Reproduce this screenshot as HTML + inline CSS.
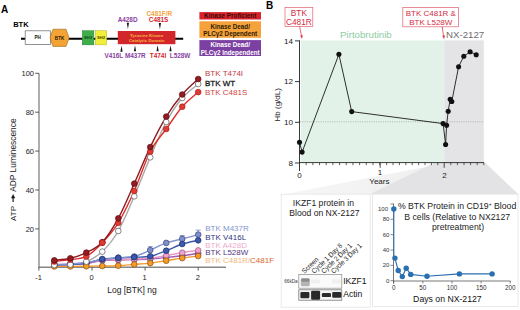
<!DOCTYPE html>
<html><head><meta charset="utf-8"><style>
html,body{margin:0;padding:0;background:#fff;width:520px;height:310px;overflow:hidden}
svg{display:block;font-family:"Liberation Sans", sans-serif}
</style></head><body>
<svg width="520" height="310" viewBox="0 0 520 310">
<text x="1" y="12.6" font-size="10" fill="#000" font-weight="bold" text-anchor="start" >A</text>
<text x="13.2" y="27.4" font-size="7.5" fill="#000" font-weight="bold" text-anchor="start" >BTK</text>
<line x1="21" y1="38.8" x2="183.2" y2="38.8" stroke="#000" stroke-width="2"/>
<rect x="25.2" y="30.8" width="25.2" height="13.7" fill="#fff" stroke="#707070" stroke-width="0.75"/>
<text x="37.6" y="39.4" font-size="4.6" fill="#111" font-weight="bold" text-anchor="middle" >PH</text>
<polygon points="50,38 53,29.2 66,29.2 69.2,38 66,46.4 53,46.4" fill="#f4a435" stroke="#9a6a1a" stroke-width="0.6"/>
<text x="59.6" y="39.7" font-size="4.6" fill="#2a1800" font-weight="bold" text-anchor="middle" >BTK</text>
<rect x="82.2" y="30.6" width="11.7" height="14.3" fill="#3fae4a" stroke="#2f7a35" stroke-width="0.4"/>
<text x="88.1" y="39.4" font-size="4.1" fill="#173d18" font-weight="bold" text-anchor="middle" >SH3</text>
<rect x="95.3" y="30.6" width="11.4" height="14.3" fill="#f2ee3a" stroke="#a8a020" stroke-width="0.4"/>
<text x="101.0" y="39.4" font-size="4.1" fill="#4a4500" font-weight="bold" text-anchor="middle" >SH2</text>
<rect x="117.8" y="31.0" width="57.6" height="13.2" fill="#d2262b"/>
<text x="146.7" y="37.0" font-size="4.4" fill="#f7b640" font-weight="bold" text-anchor="middle" >Tyrosine Kinase</text>
<text x="146.7" y="41.9" font-size="4.4" fill="#f7b640" font-weight="bold" text-anchor="middle" >Catalytic Domain</text>
<polygon points="126.80000000000001,22.8 129.0,22.8 127.9,29.0" fill="#111"/>
<polygon points="158.8,23.0 161.0,23.0 159.9,29.2" fill="#111"/>
<polygon points="120.4,51.8 122.6,51.8 121.5,45.5" fill="#111"/>
<polygon points="133.9,51.2 136.1,51.2 135.0,45.2" fill="#111"/>
<polygon points="156.5,51.2 158.7,51.2 157.6,45.2" fill="#111"/>
<polygon points="169.4,51.2 171.6,51.2 170.5,45.2" fill="#111"/>
<text x="127.6" y="22.2" font-size="6.4" fill="#8a3fa3" font-weight="bold" text-anchor="middle" >A428D</text>
<text x="159.3" y="16.3" font-size="6.4" fill="#f2a341" font-weight="bold" text-anchor="middle" >C481F/R</text>
<text x="158.6" y="22.2" font-size="6.4" fill="#d3262c" font-weight="bold" text-anchor="middle" >C481S</text>
<text x="113.8" y="58.1" font-size="6.4" fill="#8a3fa3" font-weight="bold" text-anchor="middle" >V416L</text>
<text x="135.3" y="58.1" font-size="6.4" fill="#8a3fa3" font-weight="bold" text-anchor="middle" >M437R</text>
<text x="158.0" y="58.1" font-size="6.4" fill="#d3262c" font-weight="bold" text-anchor="middle" >T474I</text>
<text x="180.1" y="58.1" font-size="6.4" fill="#8a3fa3" font-weight="bold" text-anchor="middle" >L528W</text>
<rect x="199.4" y="12.1" width="61.6" height="7.4" fill="#d9232b"/>
<text x="230.2" y="18.2" font-size="6.4" fill="#3c0b0b" font-weight="bold" text-anchor="middle" >Kinase Proficient</text>
<rect x="199.4" y="21.3" width="61.6" height="16.5" fill="#f5a23a"/>
<text x="230.2" y="28.6" font-size="6.3" fill="#2d1a05" font-weight="bold" text-anchor="middle" >Kinase Dead/</text>
<text x="230.2" y="35.7" font-size="6.3" fill="#2d1a05" font-weight="bold" text-anchor="middle" >PLC&#947;2 Dependent</text>
<rect x="199.4" y="40.1" width="61.6" height="15.9" fill="#7c3fa2"/>
<text x="230.2" y="47.2" font-size="6.3" fill="#fff" font-weight="bold" text-anchor="middle" >Kinase Dead/</text>
<text x="230.2" y="54.8" font-size="6.3" fill="#fff" font-weight="bold" text-anchor="middle" >PLC&#947;2 Independent</text>
<line x1="39" y1="73.3" x2="39" y2="267.2" stroke="#868686" stroke-width="1.35"/>
<line x1="38.4" y1="267.2" x2="226" y2="267.2" stroke="#868686" stroke-width="1.35"/>
<line x1="35.2" y1="228.90" x2="39" y2="228.90" stroke="#4a4a4a" stroke-width="0.9"/>
<text x="34.0" y="231.6" font-size="7.5" fill="#222" font-weight="normal" text-anchor="end" >20</text>
<line x1="35.2" y1="190.00" x2="39" y2="190.00" stroke="#4a4a4a" stroke-width="0.9"/>
<text x="34.0" y="192.7" font-size="7.5" fill="#222" font-weight="normal" text-anchor="end" >40</text>
<line x1="35.2" y1="151.10" x2="39" y2="151.10" stroke="#4a4a4a" stroke-width="0.9"/>
<text x="34.0" y="153.8" font-size="7.5" fill="#222" font-weight="normal" text-anchor="end" >60</text>
<line x1="35.2" y1="112.20" x2="39" y2="112.20" stroke="#4a4a4a" stroke-width="0.9"/>
<text x="34.0" y="114.90000000000002" font-size="7.5" fill="#222" font-weight="normal" text-anchor="end" >80</text>
<line x1="35.2" y1="73.30" x2="39" y2="73.30" stroke="#4a4a4a" stroke-width="0.9"/>
<text x="34.0" y="76.00000000000001" font-size="7.5" fill="#222" font-weight="normal" text-anchor="end" >100</text>
<line x1="38.90" y1="267.2" x2="38.90" y2="270.6" stroke="#4a4a4a" stroke-width="0.9"/>
<text x="38.5" y="279.8" font-size="7.5" fill="#222" font-weight="normal" text-anchor="middle" >-1</text>
<line x1="92.00" y1="267.2" x2="92.00" y2="270.6" stroke="#4a4a4a" stroke-width="0.9"/>
<text x="91.6" y="279.8" font-size="7.5" fill="#222" font-weight="normal" text-anchor="middle" >0</text>
<line x1="145.10" y1="267.2" x2="145.10" y2="270.6" stroke="#4a4a4a" stroke-width="0.9"/>
<text x="144.7" y="279.8" font-size="7.5" fill="#222" font-weight="normal" text-anchor="middle" >1</text>
<line x1="198.20" y1="267.2" x2="198.20" y2="270.6" stroke="#4a4a4a" stroke-width="0.9"/>
<text x="197.79999999999998" y="279.8" font-size="7.5" fill="#222" font-weight="normal" text-anchor="middle" >2</text>
<text x="132" y="293.4" font-size="8.5" fill="#1a1a1a" font-weight="normal" text-anchor="middle" >Log [BTK] ng</text>
<g transform="translate(16.0,221) rotate(-90)" fill="#1a1a1a"><text x="0" y="0" font-size="8">ATP</text><polygon points="19.0,-3.5 22.8,-3.5 22.8,-5.0 26.9,-2.9 22.8,-0.8 22.8,-2.3 19.0,-2.3" /><text x="29.2" y="0" font-size="8.4">ADP Luminescence</text></g>
<path d="M54.35,265.00 C57.02,264.92 65.01,265.07 70.34,264.50 C75.66,263.93 80.99,263.75 86.32,261.60 C91.65,259.45 96.97,256.70 102.30,251.60 C107.63,246.50 112.96,240.22 118.28,231.00 C123.61,221.78 128.94,208.58 134.27,196.30 C139.60,184.02 144.92,169.68 150.25,157.30 C155.58,144.92 160.91,131.88 166.23,122.00 C171.56,112.12 176.89,104.33 182.22,98.00 C187.54,91.67 195.54,86.33 198.20,84.00" fill="none" stroke="#a8a8a8" stroke-width="1.4"/>
<path d="M54.35,266.40 C57.02,266.40 65.01,266.42 70.34,266.40 C75.66,266.38 80.99,266.37 86.32,266.30 C91.65,266.23 96.97,266.10 102.30,266.00 C107.63,265.90 112.96,265.97 118.28,265.70 C123.61,265.43 128.94,264.83 134.27,264.40 C139.60,263.97 144.92,263.72 150.25,263.10 C155.58,262.48 160.91,261.53 166.23,260.70 C171.56,259.87 176.89,258.88 182.22,258.10 C187.54,257.32 195.54,256.35 198.20,256.00" fill="none" stroke="#f29a30" stroke-width="1.4"/>
<path d="M54.35,265.00 C57.02,264.92 65.01,264.75 70.34,264.50 C75.66,264.25 80.99,264.17 86.32,263.50 C91.65,262.83 96.97,261.08 102.30,260.50 C107.63,259.92 112.96,260.15 118.28,260.00 C123.61,259.85 128.94,259.77 134.27,259.60 C139.60,259.43 144.92,259.35 150.25,259.00 C155.58,258.65 160.91,258.03 166.23,257.50 C171.56,256.97 176.89,256.50 182.22,255.80 C187.54,255.10 195.54,253.72 198.20,253.30" fill="none" stroke="#a25bb0" stroke-width="1.4"/>
<path d="M54.35,264.50 C57.02,264.42 65.01,264.25 70.34,264.00 C75.66,263.75 80.99,263.67 86.32,263.00 C91.65,262.33 96.97,260.58 102.30,260.00 C107.63,259.42 112.96,259.67 118.28,259.50 C123.61,259.33 128.94,259.25 134.27,259.00 C139.60,258.75 144.92,258.58 150.25,258.00 C155.58,257.42 160.91,256.38 166.23,255.50 C171.56,254.62 176.89,253.55 182.22,252.70 C187.54,251.85 195.54,250.78 198.20,250.40" fill="none" stroke="#e99ac8" stroke-width="1.4"/>
<path d="M54.35,265.00 C57.02,264.90 65.01,264.70 70.34,264.40 C75.66,264.10 80.99,264.10 86.32,263.20 C91.65,262.30 96.97,259.87 102.30,259.00 C107.63,258.13 112.96,258.30 118.28,258.00 C123.61,257.70 128.94,257.48 134.27,257.20 C139.60,256.92 144.92,257.38 150.25,256.30 C155.58,255.22 160.91,252.75 166.23,250.70 C171.56,248.65 176.89,245.73 182.22,244.00 C187.54,242.27 195.54,240.92 198.20,240.30" fill="none" stroke="#3a58ad" stroke-width="1.4"/>
<path d="M54.35,264.80 C57.02,264.67 65.01,264.38 70.34,264.00 C75.66,263.62 80.99,263.25 86.32,262.50 C91.65,261.75 96.97,260.32 102.30,259.50 C107.63,258.68 112.96,258.10 118.28,257.60 C123.61,257.10 128.94,257.75 134.27,256.50 C139.60,255.25 144.92,252.37 150.25,250.10 C155.58,247.83 160.91,244.77 166.23,242.90 C171.56,241.03 176.89,240.28 182.22,238.90 C187.54,237.52 195.54,235.32 198.20,234.60" fill="none" stroke="#8292cf" stroke-width="1.4"/>
<path d="M54.35,261.50 C57.02,261.18 65.01,260.45 70.34,259.60 C75.66,258.75 80.99,259.22 86.32,256.40 C91.65,253.58 96.97,248.30 102.30,242.70 C107.63,237.10 112.96,231.42 118.28,222.80 C123.61,214.18 128.94,202.88 134.27,191.00 C139.60,179.12 144.92,161.83 150.25,151.50 C155.58,141.17 160.91,136.47 166.23,129.00 C171.56,121.53 176.89,112.85 182.22,106.70 C187.54,100.55 195.54,94.53 198.20,92.10" fill="none" stroke="#de2f2b" stroke-width="1.4"/>
<path d="M54.35,260.30 C57.02,259.97 65.01,259.58 70.34,258.30 C75.66,257.02 80.99,255.28 86.32,252.60 C91.65,249.92 96.97,247.90 102.30,242.20 C107.63,236.50 112.96,228.17 118.28,218.40 C123.61,208.63 128.94,195.48 134.27,183.60 C139.60,171.72 144.92,158.27 150.25,147.10 C155.58,135.93 160.91,125.37 166.23,116.60 C171.56,107.83 176.89,100.77 182.22,94.50 C187.54,88.23 195.54,81.58 198.20,79.00" fill="none" stroke="#8f1a1f" stroke-width="1.4"/>
<line x1="150.25" y1="246.6" x2="150.25" y2="250.1" stroke="#6a78b8" stroke-width="0.7"/>
<line x1="147.75" y1="246.6" x2="152.75" y2="246.6" stroke="#6a78b8" stroke-width="0.7"/>
<line x1="182.22" y1="235.5" x2="182.22" y2="238.9" stroke="#6a78b8" stroke-width="0.7"/>
<line x1="179.72" y1="235.5" x2="184.72" y2="235.5" stroke="#6a78b8" stroke-width="0.7"/>
<line x1="198.20" y1="230.1" x2="198.20" y2="234.6" stroke="#6a78b8" stroke-width="0.7"/>
<line x1="195.70" y1="230.1" x2="200.70" y2="230.1" stroke="#6a78b8" stroke-width="0.7"/>
<line x1="147.75" y1="153.5" x2="152.75" y2="153.5" stroke="#777" stroke-width="0.7"/>
<line x1="179.72" y1="94.6" x2="184.72" y2="94.6" stroke="#777" stroke-width="0.7"/>
<line x1="115.78" y1="228.5" x2="120.78" y2="228.5" stroke="#777" stroke-width="0.7"/>
<circle cx="54.35" cy="265.00" r="2.85" fill="#b061b8" stroke="#5a2a6a" stroke-width="0.7"/>
<circle cx="70.34" cy="264.50" r="2.85" fill="#b061b8" stroke="#5a2a6a" stroke-width="0.7"/>
<circle cx="86.32" cy="263.50" r="2.85" fill="#b061b8" stroke="#5a2a6a" stroke-width="0.7"/>
<circle cx="102.30" cy="260.50" r="2.85" fill="#b061b8" stroke="#5a2a6a" stroke-width="0.7"/>
<circle cx="118.28" cy="260.00" r="2.85" fill="#b061b8" stroke="#5a2a6a" stroke-width="0.7"/>
<circle cx="134.27" cy="259.60" r="2.85" fill="#b061b8" stroke="#5a2a6a" stroke-width="0.7"/>
<circle cx="150.25" cy="259.00" r="2.85" fill="#b061b8" stroke="#5a2a6a" stroke-width="0.7"/>
<circle cx="166.23" cy="257.50" r="2.85" fill="#b061b8" stroke="#5a2a6a" stroke-width="0.7"/>
<circle cx="182.22" cy="255.80" r="2.85" fill="#b061b8" stroke="#5a2a6a" stroke-width="0.7"/>
<circle cx="198.20" cy="253.30" r="2.85" fill="#b061b8" stroke="#5a2a6a" stroke-width="0.7"/>
<circle cx="54.35" cy="264.50" r="2.85" fill="#eea3cf" stroke="#9a5a80" stroke-width="0.7"/>
<circle cx="70.34" cy="264.00" r="2.85" fill="#eea3cf" stroke="#9a5a80" stroke-width="0.7"/>
<circle cx="86.32" cy="263.00" r="2.85" fill="#eea3cf" stroke="#9a5a80" stroke-width="0.7"/>
<circle cx="102.30" cy="260.00" r="2.85" fill="#eea3cf" stroke="#9a5a80" stroke-width="0.7"/>
<circle cx="118.28" cy="259.50" r="2.85" fill="#eea3cf" stroke="#9a5a80" stroke-width="0.7"/>
<circle cx="134.27" cy="259.00" r="2.85" fill="#eea3cf" stroke="#9a5a80" stroke-width="0.7"/>
<circle cx="150.25" cy="258.00" r="2.85" fill="#eea3cf" stroke="#9a5a80" stroke-width="0.7"/>
<circle cx="166.23" cy="255.50" r="2.85" fill="#eea3cf" stroke="#9a5a80" stroke-width="0.7"/>
<circle cx="182.22" cy="252.70" r="2.85" fill="#eea3cf" stroke="#9a5a80" stroke-width="0.7"/>
<circle cx="198.20" cy="250.40" r="2.85" fill="#eea3cf" stroke="#9a5a80" stroke-width="0.7"/>
<circle cx="54.35" cy="264.80" r="2.85" fill="#7f8fcc" stroke="#3a4680" stroke-width="0.7"/>
<circle cx="70.34" cy="264.00" r="2.85" fill="#7f8fcc" stroke="#3a4680" stroke-width="0.7"/>
<circle cx="86.32" cy="262.50" r="2.85" fill="#7f8fcc" stroke="#3a4680" stroke-width="0.7"/>
<circle cx="102.30" cy="259.50" r="2.85" fill="#7f8fcc" stroke="#3a4680" stroke-width="0.7"/>
<circle cx="118.28" cy="257.60" r="2.85" fill="#7f8fcc" stroke="#3a4680" stroke-width="0.7"/>
<circle cx="134.27" cy="256.50" r="2.85" fill="#7f8fcc" stroke="#3a4680" stroke-width="0.7"/>
<circle cx="150.25" cy="250.10" r="2.85" fill="#7f8fcc" stroke="#3a4680" stroke-width="0.7"/>
<circle cx="166.23" cy="242.90" r="2.85" fill="#7f8fcc" stroke="#3a4680" stroke-width="0.7"/>
<circle cx="182.22" cy="238.90" r="2.85" fill="#7f8fcc" stroke="#3a4680" stroke-width="0.7"/>
<circle cx="198.20" cy="234.60" r="2.85" fill="#7f8fcc" stroke="#3a4680" stroke-width="0.7"/>
<circle cx="54.35" cy="265.00" r="2.85" fill="#3a58ad" stroke="#1c2c60" stroke-width="0.7"/>
<circle cx="70.34" cy="264.40" r="2.85" fill="#3a58ad" stroke="#1c2c60" stroke-width="0.7"/>
<circle cx="86.32" cy="263.20" r="2.85" fill="#3a58ad" stroke="#1c2c60" stroke-width="0.7"/>
<circle cx="102.30" cy="259.00" r="2.85" fill="#3a58ad" stroke="#1c2c60" stroke-width="0.7"/>
<circle cx="118.28" cy="258.00" r="2.85" fill="#3a58ad" stroke="#1c2c60" stroke-width="0.7"/>
<circle cx="134.27" cy="257.20" r="2.85" fill="#3a58ad" stroke="#1c2c60" stroke-width="0.7"/>
<circle cx="150.25" cy="256.30" r="2.85" fill="#3a58ad" stroke="#1c2c60" stroke-width="0.7"/>
<circle cx="166.23" cy="250.70" r="2.85" fill="#3a58ad" stroke="#1c2c60" stroke-width="0.7"/>
<circle cx="182.22" cy="244.00" r="2.85" fill="#3a58ad" stroke="#1c2c60" stroke-width="0.7"/>
<circle cx="198.20" cy="240.30" r="2.85" fill="#3a58ad" stroke="#1c2c60" stroke-width="0.7"/>
<circle cx="54.35" cy="266.40" r="2.85" fill="#f39b2b" stroke="#8a5010" stroke-width="0.7"/>
<circle cx="70.34" cy="266.40" r="2.85" fill="#f39b2b" stroke="#8a5010" stroke-width="0.7"/>
<circle cx="86.32" cy="266.30" r="2.85" fill="#f39b2b" stroke="#8a5010" stroke-width="0.7"/>
<circle cx="102.30" cy="266.00" r="2.85" fill="#f39b2b" stroke="#8a5010" stroke-width="0.7"/>
<circle cx="118.28" cy="265.70" r="2.85" fill="#f39b2b" stroke="#8a5010" stroke-width="0.7"/>
<circle cx="134.27" cy="264.40" r="2.85" fill="#f39b2b" stroke="#8a5010" stroke-width="0.7"/>
<circle cx="150.25" cy="263.10" r="2.85" fill="#f39b2b" stroke="#8a5010" stroke-width="0.7"/>
<circle cx="166.23" cy="260.70" r="2.85" fill="#f39b2b" stroke="#8a5010" stroke-width="0.7"/>
<circle cx="182.22" cy="258.10" r="2.85" fill="#f39b2b" stroke="#8a5010" stroke-width="0.7"/>
<circle cx="198.20" cy="256.00" r="2.85" fill="#f39b2b" stroke="#8a5010" stroke-width="0.7"/>
<circle cx="54.35" cy="265.00" r="2.85" fill="#ffffff" stroke="#555" stroke-width="0.7"/>
<circle cx="70.34" cy="264.50" r="2.85" fill="#ffffff" stroke="#555" stroke-width="0.7"/>
<circle cx="86.32" cy="261.60" r="2.85" fill="#ffffff" stroke="#555" stroke-width="0.7"/>
<circle cx="102.30" cy="251.60" r="2.85" fill="#ffffff" stroke="#555" stroke-width="0.7"/>
<circle cx="118.28" cy="231.00" r="2.85" fill="#ffffff" stroke="#555" stroke-width="0.7"/>
<circle cx="134.27" cy="196.30" r="2.85" fill="#ffffff" stroke="#555" stroke-width="0.7"/>
<circle cx="150.25" cy="157.30" r="2.85" fill="#ffffff" stroke="#555" stroke-width="0.7"/>
<circle cx="166.23" cy="122.00" r="2.85" fill="#ffffff" stroke="#555" stroke-width="0.7"/>
<circle cx="182.22" cy="98.00" r="2.85" fill="#ffffff" stroke="#555" stroke-width="0.7"/>
<circle cx="198.20" cy="84.00" r="2.85" fill="#ffffff" stroke="#555" stroke-width="0.7"/>
<circle cx="54.35" cy="261.50" r="2.85" fill="#e23a33" stroke="#a82020" stroke-width="0.7"/>
<circle cx="70.34" cy="259.60" r="2.85" fill="#e23a33" stroke="#a82020" stroke-width="0.7"/>
<circle cx="86.32" cy="256.40" r="2.85" fill="#e23a33" stroke="#a82020" stroke-width="0.7"/>
<circle cx="102.30" cy="242.70" r="2.85" fill="#e23a33" stroke="#a82020" stroke-width="0.7"/>
<circle cx="118.28" cy="222.80" r="2.85" fill="#e23a33" stroke="#a82020" stroke-width="0.7"/>
<circle cx="134.27" cy="191.00" r="2.85" fill="#e23a33" stroke="#a82020" stroke-width="0.7"/>
<circle cx="150.25" cy="151.50" r="2.85" fill="#e23a33" stroke="#a82020" stroke-width="0.7"/>
<circle cx="166.23" cy="129.00" r="2.85" fill="#e23a33" stroke="#a82020" stroke-width="0.7"/>
<circle cx="182.22" cy="106.70" r="2.85" fill="#e23a33" stroke="#a82020" stroke-width="0.7"/>
<circle cx="198.20" cy="92.10" r="2.85" fill="#e23a33" stroke="#a82020" stroke-width="0.7"/>
<circle cx="54.35" cy="260.30" r="2.85" fill="#931c24" stroke="#5a0f12" stroke-width="0.7"/>
<circle cx="70.34" cy="258.30" r="2.85" fill="#931c24" stroke="#5a0f12" stroke-width="0.7"/>
<circle cx="86.32" cy="252.60" r="2.85" fill="#931c24" stroke="#5a0f12" stroke-width="0.7"/>
<circle cx="102.30" cy="242.20" r="2.85" fill="#931c24" stroke="#5a0f12" stroke-width="0.7"/>
<circle cx="118.28" cy="218.40" r="2.85" fill="#931c24" stroke="#5a0f12" stroke-width="0.7"/>
<circle cx="134.27" cy="183.60" r="2.85" fill="#931c24" stroke="#5a0f12" stroke-width="0.7"/>
<circle cx="150.25" cy="147.10" r="2.85" fill="#931c24" stroke="#5a0f12" stroke-width="0.7"/>
<circle cx="166.23" cy="116.60" r="2.85" fill="#931c24" stroke="#5a0f12" stroke-width="0.7"/>
<circle cx="182.22" cy="94.50" r="2.85" fill="#931c24" stroke="#5a0f12" stroke-width="0.7"/>
<circle cx="198.20" cy="79.00" r="2.85" fill="#931c24" stroke="#5a0f12" stroke-width="0.7"/>
<circle cx="102.30" cy="242.70" r="2.85" fill="#e23a33" stroke="#a82020" stroke-width="0.7"/>
<text x="205" y="76.0" font-size="8" fill="#bf3b45" font-weight="normal" text-anchor="start" >BTK T474I</text>
<text x="205" y="86.2" font-size="8" fill="#1a1a1a" font-weight="normal" text-anchor="start" stroke="#1a1a1a" stroke-width="0.3">BTK WT</text>
<text x="205" y="94.8" font-size="8" fill="#d5433d" font-weight="normal" text-anchor="start" >BTK C481S</text>
<text x="205.2" y="231.0" font-size="8" fill="#8494cf" font-weight="normal" text-anchor="start" >BTK M437R</text>
<text x="205.2" y="240.3" font-size="8" fill="#2f2f80" font-weight="normal" text-anchor="start" >BTK V416L</text>
<text x="205.2" y="248.0" font-size="8" fill="#efaacb" font-weight="normal" text-anchor="start" >BTK A428D</text>
<text x="205.2" y="254.7" font-size="8" fill="#553482" font-weight="normal" text-anchor="start" >BTK L528W</text>
<text x="205.2" y="262.6" font-size="8" fill="#f2b77a">BTK C481R/<tspan fill="#e0652c">C481F</tspan></text>
<text x="266.0" y="8.5" font-size="10" fill="#000" font-weight="bold" text-anchor="start" >B</text>
<rect x="300.8" y="40.4" width="143.4" height="122.2" fill="#e3f2e8"/>
<rect x="444.2" y="40.4" width="39.6" height="122.6" fill="#e4e4e7"/>
<text x="365.9" y="38.2" font-size="9.7" fill="#8bcba0" font-weight="normal" text-anchor="middle" >Pirtobrutinib</text>
<text x="446" y="37.6" font-size="9.7" fill="#6e6e6e" font-weight="normal" text-anchor="start" >NX-2127</text>
<defs><linearGradient id="tz" x1="0" y1="0" x2="1" y2="0"><stop offset="0" stop-color="#f6f6f6"/><stop offset="1" stop-color="#ececec"/></linearGradient></defs>
<polygon points="446,163 485.4,163 518,194 283,194.5" fill="url(#tz)"/>
<polygon points="434,163 485.4,163 518,194 370,194" fill="#e3e3e5"/>
<line x1="300" y1="121.8" x2="484" y2="121.8" stroke="#8a8a8a" stroke-width="0.6" stroke-dasharray="1,1.3"/>
<line x1="299.5" y1="40.4" x2="299.5" y2="171" stroke="#222" stroke-width="0.9"/>
<line x1="299" y1="162.6" x2="484" y2="162.6" stroke="#222" stroke-width="0.9"/>
<line x1="295" y1="163.00" x2="299.5" y2="163.00" stroke="#222" stroke-width="0.9"/>
<text x="292.9" y="165.8" font-size="8.1" fill="#1a1a1a" font-weight="normal" text-anchor="end" >8</text>
<line x1="295" y1="122.30" x2="299.5" y2="122.30" stroke="#222" stroke-width="0.9"/>
<text x="292.9" y="125.1" font-size="8.1" fill="#1a1a1a" font-weight="normal" text-anchor="end" >10</text>
<line x1="295" y1="81.60" x2="299.5" y2="81.60" stroke="#222" stroke-width="0.9"/>
<text x="292.9" y="84.39999999999999" font-size="8.1" fill="#1a1a1a" font-weight="normal" text-anchor="end" >12</text>
<line x1="295" y1="40.90" x2="299.5" y2="40.90" stroke="#222" stroke-width="0.9"/>
<text x="292.9" y="43.69999999999999" font-size="8.1" fill="#1a1a1a" font-weight="normal" text-anchor="end" >14</text>
<line x1="306.18" y1="162.6" x2="306.18" y2="165.2" stroke="#222" stroke-width="0.7"/>
<line x1="312.86" y1="162.6" x2="312.86" y2="165.2" stroke="#222" stroke-width="0.7"/>
<line x1="319.54" y1="162.6" x2="319.54" y2="165.2" stroke="#222" stroke-width="0.7"/>
<line x1="326.22" y1="162.6" x2="326.22" y2="165.2" stroke="#222" stroke-width="0.7"/>
<line x1="332.90" y1="162.6" x2="332.90" y2="165.2" stroke="#222" stroke-width="0.7"/>
<line x1="339.58" y1="162.6" x2="339.58" y2="165.2" stroke="#222" stroke-width="0.7"/>
<line x1="346.26" y1="162.6" x2="346.26" y2="165.2" stroke="#222" stroke-width="0.7"/>
<line x1="352.94" y1="162.6" x2="352.94" y2="165.2" stroke="#222" stroke-width="0.7"/>
<line x1="359.62" y1="162.6" x2="359.62" y2="165.2" stroke="#222" stroke-width="0.7"/>
<line x1="366.30" y1="162.6" x2="366.30" y2="165.2" stroke="#222" stroke-width="0.7"/>
<line x1="372.98" y1="162.6" x2="372.98" y2="165.2" stroke="#222" stroke-width="0.7"/>
<line x1="379.66" y1="162.6" x2="379.66" y2="165.2" stroke="#222" stroke-width="0.7"/>
<line x1="386.60" y1="162.6" x2="386.60" y2="165.2" stroke="#222" stroke-width="0.7"/>
<line x1="393.00" y1="162.6" x2="393.00" y2="165.2" stroke="#222" stroke-width="0.7"/>
<line x1="399.40" y1="162.6" x2="399.40" y2="165.2" stroke="#222" stroke-width="0.7"/>
<line x1="405.80" y1="162.6" x2="405.80" y2="165.2" stroke="#222" stroke-width="0.7"/>
<line x1="412.20" y1="162.6" x2="412.20" y2="165.2" stroke="#222" stroke-width="0.7"/>
<line x1="418.60" y1="162.6" x2="418.60" y2="165.2" stroke="#222" stroke-width="0.7"/>
<line x1="425.00" y1="162.6" x2="425.00" y2="165.2" stroke="#222" stroke-width="0.7"/>
<line x1="431.40" y1="162.6" x2="431.40" y2="165.2" stroke="#222" stroke-width="0.7"/>
<line x1="437.80" y1="162.6" x2="437.80" y2="165.2" stroke="#222" stroke-width="0.7"/>
<line x1="450.80" y1="162.6" x2="450.80" y2="165.2" stroke="#222" stroke-width="0.7"/>
<line x1="457.40" y1="162.6" x2="457.40" y2="165.2" stroke="#222" stroke-width="0.7"/>
<line x1="464.00" y1="162.6" x2="464.00" y2="165.2" stroke="#222" stroke-width="0.7"/>
<line x1="470.60" y1="162.6" x2="470.60" y2="165.2" stroke="#222" stroke-width="0.7"/>
<line x1="477.20" y1="162.6" x2="477.20" y2="165.2" stroke="#222" stroke-width="0.7"/>
<line x1="483.80" y1="162.6" x2="483.80" y2="165.2" stroke="#222" stroke-width="0.7"/>
<line x1="380.20" y1="162.6" x2="380.20" y2="167.8" stroke="#222" stroke-width="0.8"/>
<line x1="444.20" y1="162.6" x2="444.20" y2="167.8" stroke="#222" stroke-width="0.8"/>
<text x="299.5" y="178.0" font-size="8" fill="#222" font-weight="normal" text-anchor="middle" >0</text>
<text x="380.0" y="175.0" font-size="8" fill="#222" font-weight="normal" text-anchor="middle" >1</text>
<text x="444.4" y="178.2" font-size="8" fill="#222" font-weight="normal" text-anchor="middle" >2</text>
<text x="379.4" y="184.4" font-size="8" fill="#222" font-weight="normal" text-anchor="middle" >Years</text>
<text transform="translate(279.6,104.8) rotate(-90)" font-size="8" fill="#222" text-anchor="middle">Hb (g/dL)</text>
<path d="M299.5,142.3 L302.1,152.1 L338.9,54.3 L351.7,111.6 L443.1,123.6 L445.6,144.5 L446.6,125.2 L448.2,111.2 L450.2,99.3 L451.8,101.5 L458.6,66.7 L463.8,56.3 L470.1,51.8 L476.2,54.7" fill="none" stroke="#1a1a1a" stroke-width="0.9"/>
<circle cx="299.5" cy="142.3" r="2.55" fill="#111"/>
<circle cx="302.1" cy="152.1" r="2.55" fill="#111"/>
<circle cx="338.9" cy="54.3" r="2.55" fill="#111"/>
<circle cx="351.7" cy="111.6" r="2.55" fill="#111"/>
<circle cx="443.1" cy="123.6" r="2.55" fill="#111"/>
<circle cx="445.6" cy="144.5" r="2.55" fill="#111"/>
<circle cx="446.6" cy="125.2" r="2.55" fill="#111"/>
<circle cx="448.2" cy="111.2" r="2.55" fill="#111"/>
<circle cx="450.2" cy="99.3" r="2.55" fill="#111"/>
<circle cx="451.8" cy="101.5" r="2.55" fill="#111"/>
<circle cx="458.6" cy="66.7" r="2.55" fill="#111"/>
<circle cx="463.8" cy="56.3" r="2.55" fill="#111"/>
<circle cx="470.1" cy="51.8" r="2.55" fill="#111"/>
<circle cx="476.2" cy="54.7" r="2.55" fill="#111"/>
<rect x="285" y="7.5" width="27.8" height="19" fill="#fff" stroke="#e0606e" stroke-width="0.7"/>
<text x="298.9" y="15.9" font-size="8.3" fill="#d42a3e" font-weight="normal" text-anchor="middle" >BTK</text>
<text x="298.9" y="24.7" font-size="8.3" fill="#d42a3e" font-weight="normal" text-anchor="middle" >C481R</text>
<line x1="299.6" y1="26.6" x2="301.6" y2="36.5" stroke="#d8283e" stroke-width="0.7"/>
<polygon points="300.2,35.8 302.8,35.3 302.0,38.8" fill="#d8283e"/>
<rect x="402.8" y="7.4" width="55.6" height="19.4" fill="#fff" stroke="#e0606e" stroke-width="0.7"/>
<text x="430.8" y="16.0" font-size="8" fill="#d42a3e" font-weight="normal" text-anchor="middle" >BTK C481R &amp;</text>
<text x="430.8" y="24.9" font-size="8" fill="#d42a3e" font-weight="normal" text-anchor="middle" >BTK L528W</text>
<line x1="442.2" y1="26.8" x2="443.6" y2="36.5" stroke="#d8283e" stroke-width="0.7"/>
<polygon points="442.4,35.8 445,35.6 444,38.9" fill="#d8283e"/>
<rect x="281.2" y="194.2" width="89" height="113" fill="#fff" stroke="#e4e4e4" stroke-width="0.8"/>
<rect x="372.6" y="194.2" width="145.4" height="112.2" fill="#fff" stroke="#e4e4e4" stroke-width="0.8"/>
<text x="323.4" y="206.3" font-size="8.6" fill="#222" font-weight="normal" text-anchor="middle" >IKZF1 protein in</text>
<text x="324.4" y="216.0" font-size="8.6" fill="#222" font-weight="normal" text-anchor="middle" >Blood on NX-2127</text>
<rect x="298.8" y="274.6" width="43" height="13.6" fill="#fafafa" stroke="#8a8a8a" stroke-width="0.7"/>
<rect x="298.8" y="289.8" width="43" height="10.4" fill="#f2f2f2" stroke="#6a6a6a" stroke-width="0.7"/>
<rect x="300.8" y="278.2" width="9" height="8" fill="#b4b4b4" rx="1.5"/>
<rect x="301.2" y="278.6" width="8.2" height="3.2" fill="#8e8e8e" rx="1"/>
<rect x="311" y="279.5" width="9" height="4" fill="#efefef" rx="1"/>
<rect x="332" y="279.5" width="9" height="4" fill="#f0f0f0" rx="1"/>
<rect x="300.4" y="291.9" width="9.0" height="6.4" fill="#2a2a2a" rx="1.2"/>
<rect x="311.1" y="290.8" width="9.0" height="8.9" fill="#2a2a2a" rx="1.2"/>
<rect x="321.9" y="293.1" width="9.1" height="4.0" fill="#2a2a2a" rx="1.2"/>
<rect x="332.2" y="291.9" width="9.2" height="5.9" fill="#2a2a2a" rx="1.2"/>
<text x="343.2" y="284.2" font-size="8.6" fill="#111" font-weight="normal" text-anchor="start" >IKZF1</text>
<text x="343.2" y="297.4" font-size="8.6" fill="#111" font-weight="normal" text-anchor="start" >Actin</text>
<text x="284.3" y="282.8" font-size="4.6" fill="#333" font-weight="normal" text-anchor="start" >66kDa</text>
<text transform="translate(304.6,274.0) rotate(-44) scale(0.9,1)" font-size="7.1" fill="#1a1a1a">Screen</text>
<text transform="translate(314.3,274.0) rotate(-44) scale(0.9,1)" font-size="7.1" fill="#1a1a1a">Cycle 1 Day 8</text>
<text transform="translate(323.9,274.0) rotate(-44) scale(0.9,1)" font-size="7.1" fill="#1a1a1a">Cycle 2 Day 1</text>
<text transform="translate(333.7,274.0) rotate(-44) scale(0.9,1)" font-size="7.1" fill="#1a1a1a">Cycle 3 Day 1</text>
<line x1="393.5" y1="203.5" x2="393.5" y2="283.5" stroke="#555" stroke-width="0.8"/>
<line x1="393" y1="281" x2="510.5" y2="281" stroke="#555" stroke-width="0.8"/>
<line x1="390.5" y1="280.70" x2="393.5" y2="280.70" stroke="#555" stroke-width="0.7"/>
<text x="389.4" y="282.7" font-size="6.0" fill="#333" font-weight="normal" text-anchor="end" >0</text>
<line x1="390.5" y1="265.36" x2="393.5" y2="265.36" stroke="#555" stroke-width="0.7"/>
<text x="389.4" y="267.36" font-size="6.0" fill="#333" font-weight="normal" text-anchor="end" >20</text>
<line x1="390.5" y1="250.02" x2="393.5" y2="250.02" stroke="#555" stroke-width="0.7"/>
<text x="389.4" y="252.01999999999998" font-size="6.0" fill="#333" font-weight="normal" text-anchor="end" >40</text>
<line x1="390.5" y1="234.68" x2="393.5" y2="234.68" stroke="#555" stroke-width="0.7"/>
<text x="389.4" y="236.67999999999998" font-size="6.0" fill="#333" font-weight="normal" text-anchor="end" >60</text>
<line x1="390.5" y1="219.34" x2="393.5" y2="219.34" stroke="#555" stroke-width="0.7"/>
<text x="389.4" y="221.33999999999997" font-size="6.0" fill="#333" font-weight="normal" text-anchor="end" >80</text>
<line x1="390.5" y1="204.00" x2="393.5" y2="204.00" stroke="#555" stroke-width="0.7"/>
<text x="388.0" y="211.3" font-size="6.0" fill="#333" font-weight="normal" text-anchor="end" >100</text>
<line x1="393.70" y1="281" x2="393.70" y2="283.5" stroke="#555" stroke-width="0.7"/>
<text x="393.7" y="290.2" font-size="6.3" fill="#333" font-weight="normal" text-anchor="middle" >0</text>
<line x1="422.85" y1="281" x2="422.85" y2="283.5" stroke="#555" stroke-width="0.7"/>
<text x="422.84999999999997" y="290.2" font-size="6.3" fill="#333" font-weight="normal" text-anchor="middle" >50</text>
<line x1="452.00" y1="281" x2="452.00" y2="283.5" stroke="#555" stroke-width="0.7"/>
<text x="452.0" y="290.2" font-size="6.3" fill="#333" font-weight="normal" text-anchor="middle" >100</text>
<line x1="481.15" y1="281" x2="481.15" y2="283.5" stroke="#555" stroke-width="0.7"/>
<text x="481.15" y="290.2" font-size="6.3" fill="#333" font-weight="normal" text-anchor="middle" >150</text>
<line x1="510.30" y1="281" x2="510.30" y2="283.5" stroke="#555" stroke-width="0.7"/>
<text x="510.29999999999995" y="290.2" font-size="6.3" fill="#333" font-weight="normal" text-anchor="middle" >200</text>
<text x="447.4" y="302.3" font-size="8.7" fill="#111" font-weight="normal" text-anchor="middle" >Days on NX-2127</text>
<text x="457.1" y="208.9" font-size="8.7" fill="#222" font-weight="normal" text-anchor="middle" >% BTK Protein in CD19<tspan font-size="5" dy="-3">+</tspan><tspan dy="3"> Blood</tspan></text>
<text x="457.2" y="219.7" font-size="8.7" fill="#222" font-weight="normal" text-anchor="middle" >B cells (Relative to NX2127</text>
<text x="458.0" y="230.1" font-size="8.7" fill="#222" font-weight="normal" text-anchor="middle" >pretreatment)</text>
<path d="M394.9,258.1 L398.2,270.5 L402.3,276.6 L406.2,268.2 L410.7,274.4 L427.0,276.2 L459.4,273.9 L492.1,273.9" fill="none" stroke="#2a6fb0" stroke-width="1.1"/>
<line x1="393.8" y1="209" x2="393.8" y2="258" stroke="#3f78ad" stroke-width="1.2"/>
<circle cx="393.8" cy="209" r="2.7" fill="#2a6fb0"/>
<circle cx="394.9" cy="258.1" r="2.7" fill="#2a6fb0"/>
<circle cx="398.2" cy="270.5" r="2.7" fill="#2a6fb0"/>
<circle cx="402.3" cy="276.6" r="2.7" fill="#2a6fb0"/>
<circle cx="406.2" cy="268.2" r="2.7" fill="#2a6fb0"/>
<circle cx="410.7" cy="274.4" r="2.7" fill="#2a6fb0"/>
<circle cx="427" cy="276.2" r="2.7" fill="#2a6fb0"/>
<circle cx="459.4" cy="273.9" r="2.7" fill="#2a6fb0"/>
<circle cx="492.1" cy="273.9" r="2.7" fill="#2a6fb0"/>
</svg>
</body></html>
